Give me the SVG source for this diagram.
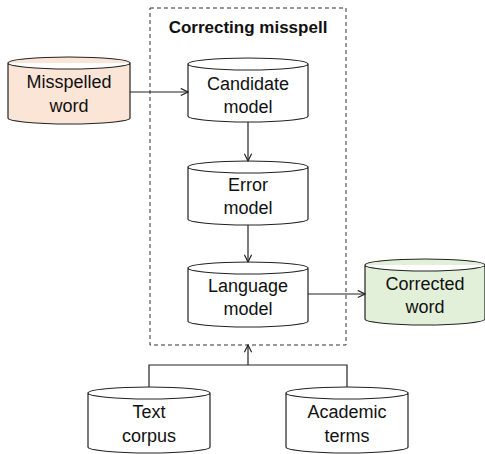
<svg xmlns="http://www.w3.org/2000/svg" width="485" height="454" viewBox="0 0 485 454">
<style>
.cyl{fill:#fff;stroke:#222;stroke-width:1.2}
.lbl{font-family:"Liberation Sans",Arial,sans-serif;font-size:18px;fill:#111;text-anchor:middle}
.title{font-family:"Liberation Sans",Arial,sans-serif;font-size:17px;font-weight:bold;fill:#111;text-anchor:middle}
.con{fill:none;stroke:#222;stroke-width:1.2}
</style>
<defs>
<marker id="arr" viewBox="0 0 10 10" refX="9" refY="5" markerWidth="9" markerHeight="9" markerUnits="userSpaceOnUse" orient="auto">
<path d="M1,1 L9,5 L1,9" fill="none" stroke="#222" stroke-width="1.3"/>
</marker>
</defs>
<rect width="485" height="454" fill="#fff"/>
<g id="group-correcting">
<rect x="150" y="8" width="196" height="337" fill="none" stroke="#333" stroke-width="1" stroke-dasharray="4,3"/>
<text class="title" x="248" y="33">Correcting misspell</text>
</g>
<g id="misspelled">
<path class="cyl" style="fill:#fbe5d6" d="M8,63 A61,6 0 0 1 130,63 L130,118 A61,6 0 0 1 8,118 Z M8,63 A61,6 0 0 0 130,63"/>
<text class="lbl" x="69" y="88">Misspelled</text>
<text class="lbl" x="69" y="112">word</text>
</g>
<g id="candidate">
<path class="cyl" d="M188,64 A60,6 0 0 1 308,64 L308,116 A60,6 0 0 1 188,116 Z M188,64 A60,6 0 0 0 308,64"/>
<text class="lbl" x="248" y="90">Candidate</text>
<text class="lbl" x="248" y="113">model</text>
</g>
<g id="error">
<path class="cyl" d="M188,167 A60,6 0 0 1 308,167 L308,219 A60,6 0 0 1 188,219 Z M188,167 A60,6 0 0 0 308,167"/>
<text class="lbl" x="248" y="191">Error</text>
<text class="lbl" x="248" y="214">model</text>
</g>
<g id="language">
<path class="cyl" d="M188,268 A60,6 0 0 1 308,268 L308,321 A60,6 0 0 1 188,321 Z M188,268 A60,6 0 0 0 308,268"/>
<text class="lbl" x="248" y="292">Language</text>
<text class="lbl" x="248" y="315">model</text>
</g>
<g id="corrected">
<path class="cyl" style="fill:#e2f0d9" d="M365,265 A60,6 0 0 1 485,265 L485,319 A60,6 0 0 1 365,319 Z M365,265 A60,6 0 0 0 485,265"/>
<text class="lbl" x="425" y="290">Corrected</text>
<text class="lbl" x="425" y="313">word</text>
</g>
<g id="textcorpus">
<path class="cyl" d="M88,393 A61,6 0 0 1 210,393 L210,447 A61,6 0 0 1 88,447 Z M88,393 A61,6 0 0 0 210,393"/>
<text class="lbl" x="149" y="418">Text</text>
<text class="lbl" x="149" y="442">corpus</text>
</g>
<g id="academic">
<path class="cyl" d="M286,393 A61,6 0 0 1 408,393 L408,447 A61,6 0 0 1 286,447 Z M286,393 A61,6 0 0 0 408,393"/>
<text class="lbl" x="347" y="418">Academic</text>
<text class="lbl" x="347" y="442">terms</text>
</g>
<g id="connectors">
<path class="con" d="M130,92 L188,92" marker-end="url(#arr)"/>
<path class="con" d="M248,122 L248,161" marker-end="url(#arr)"/>
<path class="con" d="M248,225 L248,262" marker-end="url(#arr)"/>
<path class="con" d="M308,294 L365,294" marker-end="url(#arr)"/>
<path class="con" d="M149,387 L149,365 L347,365 L347,387"/>
<path class="con" d="M248,365 L248,345" marker-end="url(#arr)"/>
</g>
</svg>
